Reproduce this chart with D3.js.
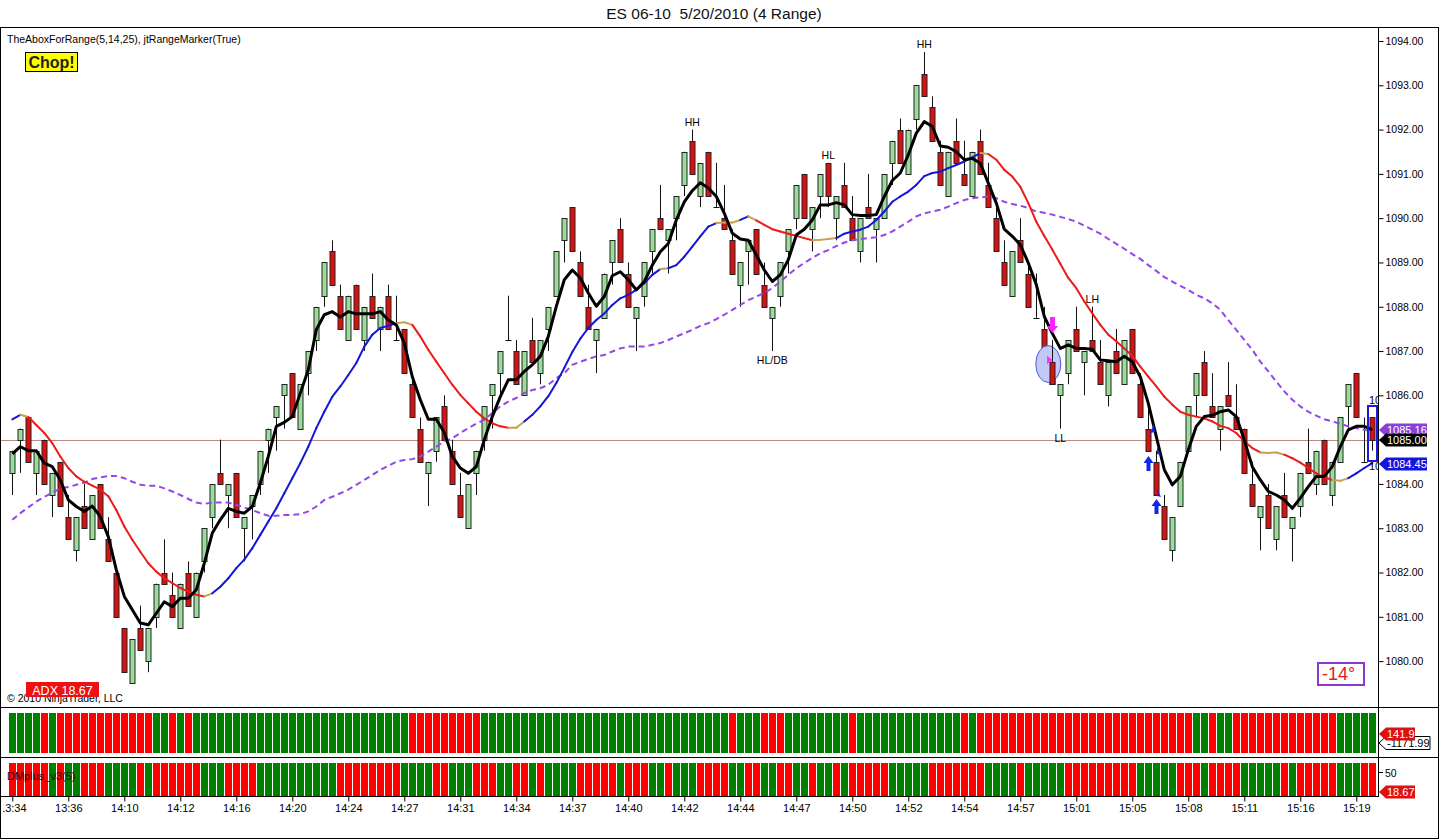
<!DOCTYPE html>
<html><head><meta charset="utf-8">
<script src="https://cdn.jsdelivr.net/npm/d3@7"></script>
<style>
html,body{margin:0;padding:0;background:#fff;}
svg text{font-family:"Liberation Sans",Arial,sans-serif;}
</style></head>
<body><svg id="c" width="1440" height="840"></svg>
<script>
// ---------------- DATA ----------------
const opens = [1084.25,1085.0,1085.5,1084.25,1085.0,1083.75,1084.5,1083.25,1082.5,1083.5,
1082.75,1084.0,1082.75,1082.0,1080.75,1079.5,1080.75,1080.0,1081.0,1082.0,
1081.5,1080.75,1082.0,1081.0,1082.25,1083.25,1084.25,1083.75,1084.25,1083.0,
1083.5,1084.0,1085.0,1085.5,1086.0,1086.5,1085.25,1086.5,1087.25,1088.25,
1089.25,1088.25,1087.25,1088.5,1087.25,1088.25,1087.5,1088.25,1087.25,1087.5,
1086.25,1085.25,1084.25,1084.75,1085.75,1084.75,1083.75,1083.0,1084.25,1085.0,
1086.0,1086.5,1087.25,1087.0,1086.0,1087.25,1086.5,1087.5,1088.25,1089.5,
1090.25,1089.0,1088.0,1087.25,1087.75,1089.0,1089.75,1088.75,1087.75,1088.25,
1089.25,1090.0,1089.5,1090.0,1090.75,1091.75,1090.5,1091.5,1090.25,1090.0,
1089.5,1088.5,1089.25,1089.75,1088.5,1087.75,1088.25,1089.25,1090.0,1091.0,
1089.75,1090.5,1091.25,1090.0,1090.75,1090.0,1089.25,1090.25,1089.75,1090.0,
1091.25,1092.0,1091.0,1092.25,1093.25,1092.5,1091.5,1090.5,1091.75,1091.0,
1090.5,1091.75,1090.75,1090.0,1089.0,1088.25,1089.5,1088.75,1087.75,1087.5,
1086.75,1086.0,1086.5,1087.5,1086.75,1087.25,1086.75,1086.0,1087.0,1086.25,
1087.5,1086.25,1085.25,1084.5,1083.5,1082.5,1083.5,1084.75,1086.0,1086.75,
1085.75,1085.25,1086.0,1085.5,1085.25,1084.0,1083.25,1083.75,1082.75,1083.75,
1083.0,1083.5,1084.5,1084.0,1085.0,1083.75,1084.5,1085.75,1086.5,1084.5,
1085.5];
const highs = [1084.75,1085.25,1085.5,1084.75,1085.0,1084.25,1084.5,1083.75,1083.25,1084.0,
1083.75,1084.0,1083.25,1082.0,1080.75,1080.5,1081.25,1080.75,1081.75,1082.75,
1082.0,1081.75,1082.25,1082.0,1083.0,1084.0,1085.0,1084.0,1084.25,1083.25,
1083.75,1084.75,1085.25,1085.75,1086.25,1086.5,1086.25,1087.0,1088.0,1089.0,
1089.5,1088.5,1088.25,1088.5,1088.0,1088.75,1088.0,1088.5,1088.25,1087.5,
1086.5,1085.5,1084.5,1085.5,1086.0,1085.0,1084.25,1084.0,1084.75,1085.75,
1086.25,1087.0,1088.25,1087.25,1087.0,1087.75,1087.25,1088.0,1089.25,1090.0,
1090.25,1089.25,1088.5,1087.5,1088.75,1089.5,1090.0,1089.0,1088.0,1089.0,
1089.75,1090.75,1089.75,1090.5,1091.5,1092.0,1091.25,1091.5,1091.25,1090.75,
1089.75,1089.0,1089.5,1089.75,1089.0,1088.0,1089.0,1089.75,1090.75,1091.0,
1090.25,1091.0,1091.25,1090.5,1091.25,1090.5,1090.0,1091.0,1090.0,1091.0,
1091.75,1092.25,1092.0,1093.0,1093.75,1092.75,1091.75,1091.5,1092.25,1091.75,
1091.5,1092.0,1091.25,1090.25,1089.5,1089.25,1090.0,1089.0,1088.75,1088.0,
1087.25,1086.25,1087.25,1088.0,1087.0,1088.0,1087.25,1086.75,1087.5,1087.25,
1087.5,1086.5,1085.75,1084.75,1083.75,1083.25,1084.5,1085.75,1086.5,1087.0,
1086.5,1085.75,1086.75,1086.25,1085.25,1084.5,1083.5,1084.0,1083.5,1084.25,
1083.25,1084.25,1085.25,1084.75,1085.0,1084.5,1085.5,1086.25,1086.5,1085.5,
1085.5];
const lows = [1083.75,1084.25,1084.5,1083.75,1084.0,1083.25,1083.5,1082.75,1082.25,1083.0,
1082.75,1083.0,1082.25,1081.0,1079.75,1079.5,1080.25,1079.75,1080.75,1081.75,
1081.0,1080.75,1081.25,1081.0,1082.0,1083.0,1084.0,1083.0,1083.25,1082.25,
1082.75,1083.75,1084.25,1084.75,1085.25,1085.5,1085.25,1086.0,1087.0,1088.0,
1088.5,1087.5,1087.25,1087.5,1087.0,1087.75,1087.0,1087.5,1087.25,1086.5,
1085.5,1084.5,1083.5,1084.5,1085.0,1084.0,1083.25,1083.0,1083.75,1084.75,
1085.25,1086.0,1087.25,1086.25,1086.0,1086.75,1086.25,1087.0,1088.25,1089.0,
1089.25,1088.25,1087.5,1086.5,1087.75,1088.5,1089.0,1088.0,1087.0,1088.0,
1088.75,1089.75,1088.75,1089.5,1090.5,1091.0,1090.25,1090.5,1090.25,1089.75,
1088.75,1088.0,1088.5,1088.75,1088.0,1087.0,1088.0,1088.75,1089.75,1090.0,
1089.25,1090.0,1090.25,1089.5,1090.25,1089.5,1089.0,1090.0,1089.0,1090.0,
1090.75,1091.25,1091.0,1092.0,1092.75,1091.75,1090.75,1090.5,1091.25,1090.75,
1090.5,1091.0,1090.25,1089.25,1088.5,1088.25,1089.0,1088.0,1087.75,1087.0,
1086.25,1085.25,1086.25,1087.0,1086.0,1087.0,1086.25,1085.75,1086.5,1086.25,
1086.5,1085.5,1084.75,1083.75,1082.75,1082.25,1083.5,1084.75,1085.5,1086.0,
1085.5,1084.75,1085.75,1085.25,1084.25,1083.5,1082.5,1083.0,1082.5,1083.25,
1082.25,1083.25,1084.25,1083.75,1084.0,1083.5,1084.5,1085.25,1085.5,1084.5,
1084.75];
const closes = [1084.75,1085.25,1084.5,1084.75,1084.0,1084.25,1083.5,1082.75,1083.25,1083.0,
1083.75,1083.0,1082.25,1081.0,1079.75,1080.5,1080.25,1080.75,1081.75,1081.75,
1081.0,1081.75,1081.25,1082.0,1083.0,1084.0,1084.0,1084.0,1083.25,1083.25,
1083.75,1084.75,1085.25,1085.75,1086.25,1085.5,1086.25,1087.0,1088.0,1089.0,
1088.5,1087.5,1088.25,1087.5,1088.0,1087.75,1088.0,1087.5,1087.25,1086.5,
1085.5,1084.5,1084.5,1085.5,1085.0,1084.0,1083.25,1084.0,1084.75,1085.75,
1086.25,1087.0,1087.25,1086.25,1087.0,1086.75,1087.25,1088.0,1089.25,1090.0,
1089.25,1088.25,1087.5,1087.5,1088.75,1089.5,1089.0,1088.0,1088.0,1089.0,
1089.75,1089.75,1089.75,1090.5,1091.5,1091.0,1091.25,1090.5,1090.25,1089.75,
1088.75,1089.0,1089.5,1088.75,1088.0,1088.0,1089.0,1089.75,1090.75,1090.0,
1090.25,1091.0,1090.5,1090.5,1090.25,1089.5,1090.0,1090.0,1090.0,1091.0,
1091.75,1091.25,1092.0,1093.0,1092.75,1091.75,1090.75,1091.5,1091.25,1090.75,
1091.5,1091.0,1090.25,1089.25,1088.5,1089.25,1089.0,1088.0,1087.75,1087.0,
1086.25,1086.25,1087.25,1087.0,1087.0,1087.0,1086.25,1086.75,1086.5,1087.25,
1086.5,1085.5,1084.75,1083.75,1082.75,1083.25,1084.5,1085.75,1086.5,1086.0,
1085.5,1085.75,1085.75,1085.25,1084.25,1083.5,1083.5,1083.0,1083.5,1083.25,
1083.25,1084.25,1084.25,1084.75,1084.0,1084.5,1085.5,1086.25,1085.5,1084.5,
1085.0];
// fast (black) average
const fastLine = [1084.68,1084.84,1084.75,1084.75,1084.47,1084.39,1084.09,1083.64,1083.49,1083.38,
1083.50,1083.26,1082.81,1082.06,1081.46,1081.16,1080.86,1080.82,1081.08,1081.34,
1081.23,1081.42,1081.42,1081.61,1082.21,1082.89,1083.19,1083.45,1083.38,1083.34,
1083.49,1084.02,1084.62,1085.30,1085.39,1085.52,1086.05,1086.58,1087.48,1087.82,
1087.89,1087.77,1087.89,1087.84,1087.84,1087.84,1087.89,1087.70,1087.59,1087.18,
1086.42,1085.90,1085.46,1085.46,1085.16,1084.62,1084.36,1084.24,1084.39,1085.00,
1085.52,1085.97,1086.35,1086.35,1086.54,1086.69,1086.88,1087.33,1088.01,1088.61,
1088.83,1088.65,1088.31,1088.01,1088.23,1088.70,1088.79,1088.61,1088.38,1088.57,
1088.94,1089.24,1089.43,1089.96,1090.37,1090.62,1090.80,1090.68,1090.49,1090.11,
1089.66,1089.53,1089.50,1089.17,1088.83,1088.57,1088.72,1089.06,1089.62,1089.75,
1089.96,1090.30,1090.30,1090.35,1090.30,1090.08,1090.06,1090.06,1090.08,1090.49,
1090.85,1091.02,1091.43,1091.92,1092.18,1092.07,1091.63,1091.60,1091.50,1091.32,
1091.35,1091.24,1090.79,1090.34,1089.75,1089.59,1089.40,1088.99,1088.50,1087.78,
1087.40,1087.06,1087.14,1087.06,1087.06,1087.04,1086.80,1086.78,1086.76,1086.88,
1086.76,1086.42,1085.82,1085.07,1084.32,1083.98,1084.17,1084.77,1085.30,1085.52,
1085.55,1085.63,1085.67,1085.52,1084.99,1084.39,1084.09,1083.83,1083.75,1083.64,
1083.45,1083.68,1083.94,1084.17,1084.17,1084.39,1084.84,1085.22,1085.30,1085.30,
1085.22];
// 14 average (blue rising / red falling)
const midLine = [1085.46,1085.56,1085.51,1085.33,1085.15,1084.92,1084.62,1084.36,1084.17,1084.05,
1083.96,1083.87,1083.72,1083.41,1083.04,1082.74,1082.47,1082.21,1082.02,1081.87,
1081.76,1081.65,1081.57,1081.50,1081.46,1081.53,1081.68,1081.87,1082.10,1082.29,
1082.55,1082.85,1083.15,1083.45,1083.79,1084.13,1084.47,1084.84,1085.26,1085.63,
1085.97,1086.20,1086.46,1086.73,1087.10,1087.37,1087.52,1087.57,1087.63,1087.65,
1087.59,1087.33,1087.03,1086.76,1086.50,1086.24,1086.01,1085.82,1085.63,1085.48,
1085.37,1085.30,1085.27,1085.27,1085.41,1085.56,1085.75,1085.98,1086.28,1086.62,
1086.98,1087.28,1087.52,1087.70,1087.85,1088.04,1088.19,1088.27,1088.38,1088.53,
1088.72,1088.85,1088.87,1088.94,1089.13,1089.36,1089.59,1089.81,1089.89,1089.90,
1089.90,1089.96,1090.04,1089.95,1089.85,1089.75,1089.70,1089.65,1089.60,1089.55,
1089.50,1089.51,1089.53,1089.55,1089.65,1089.70,1089.74,1089.81,1089.96,1090.15,
1090.37,1090.49,1090.60,1090.75,1090.95,1091.02,1091.05,1091.13,1091.20,1091.28,
1091.37,1091.47,1091.45,1091.32,1091.09,1090.94,1090.71,1090.34,1089.92,1089.60,
1089.29,1088.97,1088.65,1088.42,1088.12,1087.85,1087.59,1087.37,1087.22,1087.06,
1086.89,1086.65,1086.42,1086.20,1085.97,1085.79,1085.63,1085.56,1085.52,1085.48,
1085.41,1085.31,1085.26,1085.15,1084.96,1084.81,1084.71,1084.70,1084.71,1084.66,
1084.58,1084.48,1084.36,1084.24,1084.15,1084.09,1084.07,1084.13,1084.24,1084.36,
1084.47];
// 25 average (purple dashed)
const slowLine = [1083.19,1083.34,1083.47,1083.60,1083.71,1083.80,1083.90,1083.93,1083.98,1084.03,
1084.11,1084.15,1084.18,1084.18,1084.13,1084.05,1083.98,1083.96,1083.96,1083.90,
1083.83,1083.75,1083.66,1083.58,1083.55,1083.58,1083.58,1083.58,1083.53,1083.47,
1083.41,1083.34,1083.28,1083.28,1083.30,1083.30,1083.32,1083.38,1083.49,1083.64,
1083.71,1083.79,1083.87,1083.98,1084.09,1084.20,1084.32,1084.41,1084.50,1084.54,
1084.56,1084.62,1084.73,1084.84,1084.96,1085.03,1085.15,1085.26,1085.36,1085.45,
1085.60,1085.75,1085.86,1085.94,1086.05,1086.12,1086.16,1086.24,1086.39,1086.50,
1086.69,1086.76,1086.82,1086.88,1086.91,1086.99,1087.06,1087.10,1087.10,1087.10,
1087.14,1087.18,1087.25,1087.33,1087.40,1087.48,1087.57,1087.63,1087.72,1087.82,
1087.93,1088.04,1088.15,1088.23,1088.31,1088.42,1088.57,1088.72,1088.87,1088.99,
1089.10,1089.21,1089.28,1089.37,1089.45,1089.50,1089.53,1089.55,1089.57,1089.62,
1089.70,1089.81,1089.92,1090.04,1090.11,1090.15,1090.19,1090.26,1090.34,1090.41,
1090.45,1090.47,1090.49,1090.45,1090.37,1090.32,1090.28,1090.23,1090.15,1090.12,
1090.08,1090.03,1089.98,1089.92,1089.83,1089.74,1089.65,1089.53,1089.42,1089.31,
1089.19,1089.08,1088.94,1088.81,1088.67,1088.57,1088.47,1088.38,1088.27,1088.19,
1088.08,1087.93,1087.70,1087.48,1087.25,1087.03,1086.76,1086.54,1086.31,1086.09,
1085.90,1085.75,1085.63,1085.54,1085.46,1085.41,1085.36,1085.30,1085.26,1085.22,
1085.18];
// lower panels: runs of G(green)/R(red)
const trendRuns = [[4,"G"],[1,"R"],[1,"G"],[12,"R"],[2,"G"],[1,"R"],[1,"G"],[1,"R"],[27,"G"],[9,"R"],
[31,"G"],[1,"R"],[3,"G"],[3,"R"],[8,"G"],[1,"R"],[13,"G"],[1,"R"],[1,"G"],[27,"R"],
[2,"G"],[1,"R"],[2,"G"],[13,"R"],[5,"G"]];
const dmRuns = [[5,"R"],[1,"G"],[1,"R"],[2,"G"],[3,"R"],[4,"G"],[1,"R"],[1,"G"],[6,"R"],[3,"G"],
[4,"R"],[10,"G"],[8,"R"],[4,"G"],[2,"R"],[3,"G"],[3,"R"],[2,"G"],[2,"R"],[1,"G"],
[1,"R"],[4,"G"],[5,"R"],[1,"G"],[3,"R"],[2,"G"],[1,"R"],[3,"G"],[4,"R"],[2,"G"],
[2,"R"],[2,"G"],[2,"R"],[2,"G"],[1,"R"],[2,"G"],[1,"R"],[1,"G"],[5,"R"],[5,"G"],
[7,"R"],[4,"G"],[1,"R"],[5,"G"],[9,"R"],[5,"G"],[3,"R"],[1,"G"],[4,"R"],[5,"G"],
[1,"R"],[1,"G"],[5,"R"],[3,"G"],[2,"R"]];
const timeLabels = ["13:34","13:36","14:10","14:12","14:16","14:20","14:24","14:27","14:31","14:34",
"14:37","14:40","14:42","14:44","14:47","14:50","14:52","14:54","14:57","15:01",
"15:05","15:08","15:11","15:16","15:19"];
const priceTicks = [1080,1081,1082,1083,1084,1085,1086,1087,1088,1089,1090,1091,1092,1093,1094];
const swingLabels = [{i:85,p:1092.0,t:"HH",pos:"above"},{i:114,p:1093.75,t:"HH",pos:"above"},
{i:102,p:1091.25,t:"HL",pos:"above"},{i:95,p:1087.0,t:"HL/DB",pos:"below"},
{i:135,p:1088.0,t:"LH",pos:"above"},{i:131,p:1085.25,t:"LL",pos:"below"}];
const priceTags = [{v:1085.16,fill:"#8a40d8",txt:"#fff"},{v:1085.00,fill:"#000",txt:"#fff"},{v:1084.45,fill:"#1414e0",txt:"#fff"}];

// ---------------- DRAW ----------------
const svg = d3.select("#c");
const x = d3.scaleLinear().domain([0,170]).range([12.3,1372.3]);
const y = d3.scaleLinear().domain([1080,1094]).range([661.1,41]);
const expand = runs => runs.flatMap(([n,c]) => Array(n).fill(c));
const trend = expand(trendRuns), dm = expand(dmRuns);
const idx = d3.range(opens.length);
const GREEN = "#008000", RED = "#ff0000";

svg.append("rect").attr("width",1440).attr("height",840).attr("fill","#fff");
const defs = svg.append("defs");
defs.append("clipPath").attr("id","main").append("rect").attr("x",1).attr("y",28).attr("width",1377).attr("height",679);
defs.append("clipPath").attr("id","tax").append("rect").attr("x",3).attr("y",0).attr("width",1376).attr("height",40);

// title
svg.append("text").attr("x",714).attr("y",19).attr("text-anchor","middle").attr("font-size",15.5)
  .style("white-space","pre").attr("fill","#111").text("ES 06-10  5/20/2010 (4 Range)");

// lower panels
const p1 = svg.append("g");
idx.forEach(i => p1.append("rect").attr("x",9+8*i).attr("y",713).attr("width",7).attr("height",40)
  .attr("fill", trend[i]==="G" ? GREEN : RED));
const p2 = svg.append("g");
idx.forEach(i => p2.append("rect").attr("x",9+8*i).attr("y",763).attr("width",7).attr("height",33)
  .attr("fill", dm[i]==="G" ? GREEN : RED));
svg.append("text").attr("x",7).attr("y",780).attr("font-size",11).attr("fill","#2a0a0a").text("DMplus_v3(5)");

// frame
const frame = svg.append("g").attr("stroke","#000").attr("fill","none").attr("stroke-width",1);
frame.append("rect").attr("x",0.5).attr("y",27.5).attr("width",1438).attr("height",811);
frame.append("line").attr("x1",1378.5).attr("x2",1378.5).attr("y1",27).attr("y2",797);
frame.append("line").attr("x1",0).attr("x2",1439).attr("y1",707.5).attr("y2",707.5);
frame.append("line").attr("x1",0).attr("x2",1439).attr("y1",757.5).attr("y2",757.5);

// time axis
const tax = svg.append("g").attr("transform","translate(0,796.5)").attr("clip-path","url(#tax)")
  .call(d3.axisBottom(x).tickValues(d3.range(0,171,7)).tickFormat((d,k)=>timeLabels[k]).tickSize(5).tickPadding(3));
tax.select(".domain").remove();
svg.append("line").attr("x1",0).attr("x2",1379).attr("y1",796.5).attr("y2",796.5).attr("stroke","#000");
tax.selectAll("text").attr("font-size",11).attr("fill","#000").attr("font-family","Liberation Sans, Arial, sans-serif");
tax.selectAll("line").attr("stroke","#000");

// price axis
const pax = svg.append("g").attr("transform","translate(1378.5,0)")
  .call(d3.axisRight(y).tickValues(priceTicks).tickFormat(d3.format(".2f")).tickSize(5).tickPadding(2));
pax.select(".domain").remove();
pax.selectAll("text").attr("font-size",10.5).attr("fill","#000").attr("font-family","Liberation Sans, Arial, sans-serif");
pax.selectAll("line").attr("stroke","#000");

const main = svg.append("g").attr("clip-path","url(#main)");
// last price line
main.append("line").attr("x1",1).attr("x2",1378).attr("y1",Math.round(y(1085))+0.5).attr("y2",Math.round(y(1085))+0.5)
  .attr("stroke","#b88a80").attr("stroke-width",1);

// candles
function candle(g,i){
  const cx = Math.round(x(i)) + 0.5;
  const o = opens[i], c = closes[i];
  g.append("line").attr("x1",cx).attr("x2",cx).attr("y1",y(highs[i])).attr("y2",y(lows[i]))
    .attr("stroke","#111").attr("stroke-width",1);
  if (o === c) {
    g.append("line").attr("x1",cx-3).attr("x2",cx+3).attr("y1",Math.round(y(o))+0.5).attr("y2",Math.round(y(o))+0.5)
      .attr("stroke","#111").attr("stroke-width",1);
  } else {
    const top = Math.round(y(Math.max(o,c))), bot = Math.round(y(Math.min(o,c)));
    g.append("rect").attr("x",cx-2.5).attr("y",top+0.5).attr("width",5).attr("height",bot-top)
      .attr("fill", c > o ? "#98de98" : "#dd1010").attr("stroke","#222").attr("stroke-width",1);
  }
}
const cg = main.append("g");
idx.forEach(i => candle(cg,i));

// slow purple dashed
main.append("path").datum(idx).attr("fill","none").attr("stroke","#9446e6").attr("stroke-width",2)
  .attr("stroke-dasharray","6,4")
  .attr("d", d3.line().x(i=>x(i)).y(i=>y(slowLine[i])));

// mid line, colored by direction
let prevSign = 0;
for (let i = 0; i < midLine.length-1; i++) {
  const d = midLine[i+1]-midLine[i];
  const s = d > 0 ? 1 : -1;
  let col = s > 0 ? "#1515d8" : "#ee1a1a";
  if ((prevSign !== 0 && s !== prevSign) || Math.abs(d) < 0.025) col = "#c8a050";
  prevSign = s;
  main.append("line").attr("x1",x(i)).attr("x2",x(i+1)).attr("y1",y(midLine[i])).attr("y2",y(midLine[i+1]))
    .attr("stroke",col).attr("stroke-width",2).attr("stroke-linecap","round");
}

// fast black line
main.append("path").datum(idx).attr("fill","none").attr("stroke","#000").attr("stroke-width",3)
  .attr("stroke-linejoin","round")
  .attr("d", d3.line().x(i=>x(i)).y(i=>y(fastLine[i])));

// swing labels
swingLabels.forEach(s => {
  svg.append("text").attr("x",x(s.i)).attr("y", s.pos==="above" ? y(s.p)-4 : y(s.p)+13)
    .attr("text-anchor","middle").attr("font-size",10.5).attr("fill","#000").text(s.t);
});

// markers near 15:00 - 15:06
main.append("ellipse").attr("cx",x(130)-4).attr("cy",364).attr("rx",12.5).attr("ry",18.5)
  .attr("fill","#c4c8f4").attr("stroke","#4a58e6").attr("stroke-width",1);
candle(main,130);
main.append("path").attr("d","M1047,356 L1053,360 L1047,364 Z").attr("fill","#ff30ff");
main.append("path").attr("d","M1050,317 L1055,317 L1055,326 L1058,326 L1052.5,333 L1047,326 L1050,326 Z").attr("fill","#ff20ff");
const upArrow = (cx, top) => `M${cx},${top} L${cx+5},${top+7} L${cx+2},${top+7} L${cx+2},${top+15} L${cx-2},${top+15} L${cx-2},${top+7} L${cx-5},${top+7} Z`;
main.append("path").attr("d",upArrow(1148.5,456)).attr("fill","#1028e8");
main.append("path").attr("d",upArrow(1156.5,499)).attr("fill","#1028e8");
main.append("path").attr("d","M1150,433 L1154,424 L1155,432 Z").attr("fill","#1028e8");
main.append("path").attr("d","M1157,447 L1161,455 L1157,454 Z").attr("fill","#1028e8");
main.append("path").attr("d","M1157,489 L1161,497 L1157,496 Z").attr("fill","#1028e8");
// last bar box
main.append("rect").attr("x",1368).attr("y",406).attr("width",9).attr("height",55)
  .attr("fill","none").attr("stroke","#1a1ae0").attr("stroke-width",2);
main.append("text").attr("x",1369).attr("y",404).attr("font-size",11).text("10");
main.append("text").attr("x",1369).attr("y",470).attr("font-size",11).text("10");

// price tags on the right axis
function tag(yc, w, fill, txtCol, text, stroke){
  const g = svg.append("g");
  g.append("path").attr("d",`M1379,${yc} L1386,${yc-6.5} L${1379+w},${yc-6.5} L${1379+w},${yc+6.5} L1386,${yc+6.5} Z`)
    .attr("fill",fill).attr("stroke",stroke||"none");
  g.append("text").attr("x",1387).attr("y",yc+4).attr("font-size",11).attr("fill",txtCol).text(text);
}
priceTags.forEach(t => tag(Math.round(y(t.v))-(t.v===1085.16?3:0), 48, t.fill, t.txt, t.v.toFixed(2)));
tag(743, 51, "#fff", "#000", "-1171.99", "#000");
tag(734, 36, "#e01010", "#fff", "141.9");
svg.append("line").attr("x1",1378).attr("x2",1383).attr("y1",772.5).attr("y2",772.5).attr("stroke","#000");
svg.append("text").attr("x",1385).attr("y",776.5).attr("font-size",10.5).text("50");
tag(792, 36, "#e01010", "#fff", "18.67");

// top-left texts
svg.append("text").attr("x",7).attr("y",43).attr("font-size",10.5).attr("fill","#000")
  .text("TheAboxForRange(5,14,25), jtRangeMarker(True)");
svg.append("rect").attr("x",25.5).attr("y",52.5).attr("width",52).attr("height",19).attr("fill","#ffff00").attr("stroke","#000");
svg.append("text").attr("x",51.5).attr("y",67.5).attr("text-anchor","middle").attr("font-size",16)
  .attr("font-weight","bold").attr("fill","#222").text("Chop!");
svg.append("text").attr("x",7).attr("y",702).attr("font-size",10.5).attr("fill","#000").text("© 2010 NinjaTrader, LLC");
svg.append("rect").attr("x",26).attr("y",682).attr("width",73).attr("height",15).attr("fill","#ee1111");
svg.append("text").attr("x",62.5).attr("y",694.5).attr("text-anchor","middle").attr("font-size",12.5).attr("fill","#fff").text("ADX 18.67");
svg.append("rect").attr("x",1318).attr("y",663).attr("width",46).attr("height",22)
  .attr("fill","#fff").attr("stroke","#8a3ad0").attr("stroke-width",2);
svg.append("text").attr("x",1322).attr("y",680).attr("font-size",18).attr("fill","#e02020").text("-14°");
</script></body></html>
